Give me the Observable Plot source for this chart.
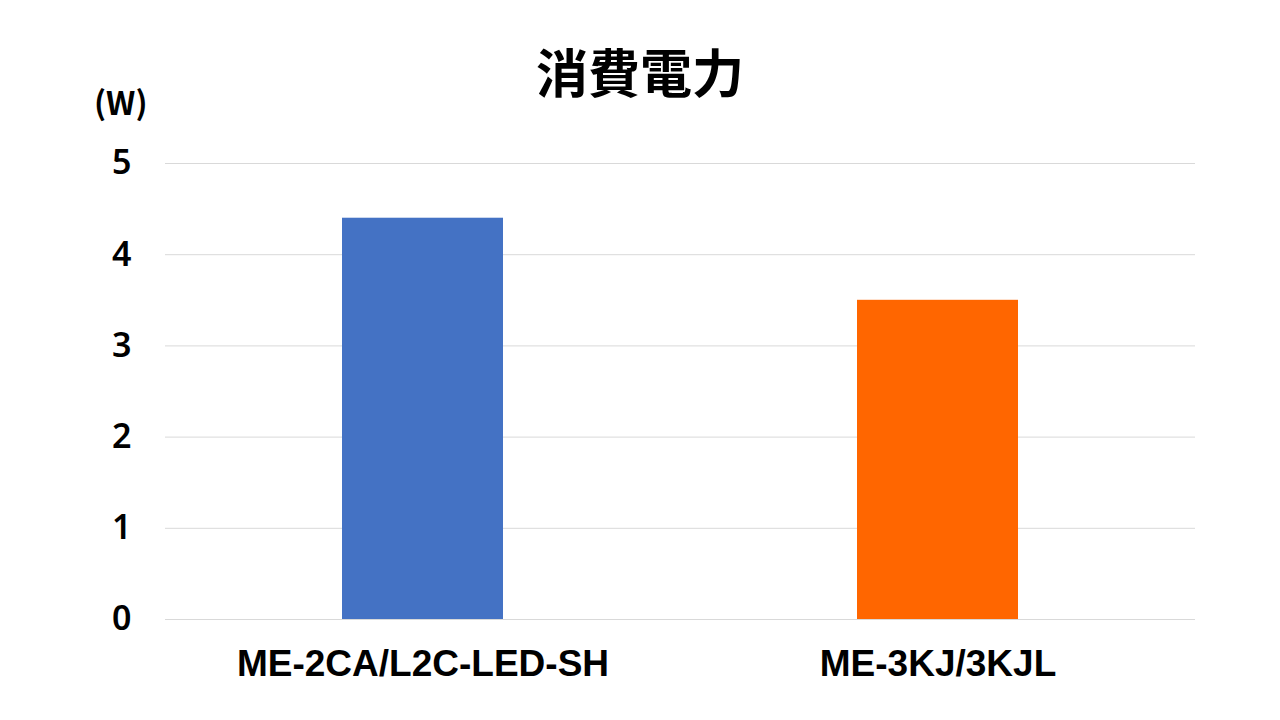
<!DOCTYPE html>
<html>
<head>
<meta charset="utf-8">
<script src="https://cdn.jsdelivr.net/npm/d3@7"></script>
<script src="https://cdn.jsdelivr.net/npm/@observablehq/plot@0.6"></script>
<style>
  html, body { margin: 0; padding: 0; background: #fff; }
  #wrap { position: relative; width: 1280px; height: 720px; overflow: hidden; }
  #title { position: absolute; left: 0; width: 1280px; top: 40px; text-align: center;
    font-family: "Noto Sans CJK JP", sans-serif; font-weight: 700; font-size: 52px; color: #000; line-height: 1.2; }
  #unit { position: absolute; left: 94px; top: 82px; font-family: "Noto Sans CJK JP", sans-serif;
    font-weight: 700; font-size: 32px; color: #000; line-height: 1.2; }
  #chart { position: absolute; left: 0; top: 0; }
</style>
</head>
<body>
<div id="wrap">
  <div id="chart"></div>
  <div id="title">消費電力</div>
  <div id="unit">(W)</div>
</div>
<script>
const categories = ["ME-2CA/L2C-LED-SH", "ME-3KJ/3KJL"];
const values = [4.4, 3.5];
const colors = ["#4472C4", "#FF6600"];
const yTicks = [0, 1, 2, 3, 4, 5];

const data = categories.map((c, i) => ({category: c, value: values[i], color: colors[i]}));

const chart = Plot.plot({
  width: 1280,
  height: 720,
  marginTop: 163,
  marginBottom: 101,
  marginLeft: 165,
  marginRight: 85,
  style: {background: "transparent", color: "#000"},
  x: {domain: categories, paddingInner: 0.687, paddingOuter: 0.3435, label: null},
  y: {domain: [0, 5], ticks: yTicks, label: null},
  marks: [
    Plot.gridY(yTicks, {stroke: "#d9d9d9", strokeOpacity: 1, strokeWidth: 1}),
    Plot.barY(data, {x: "category", y: "value", fill: "color"}),
    Plot.axisY(yTicks, {tickSize: 0, tickPadding: 34, fontSize: 34, fontWeight: 600,
      tickFormat: d3.format("d"), fontFamily: "Noto Sans, sans-serif", label: null}),
    Plot.axisX({tickSize: 0, tickPadding: 30, fontSize: 37, fontWeight: 700,
      fontFamily: "Liberation Sans, Arial, sans-serif", label: null})
  ]
});
document.getElementById("chart").appendChild(chart);
</script>
</body>
</html>
